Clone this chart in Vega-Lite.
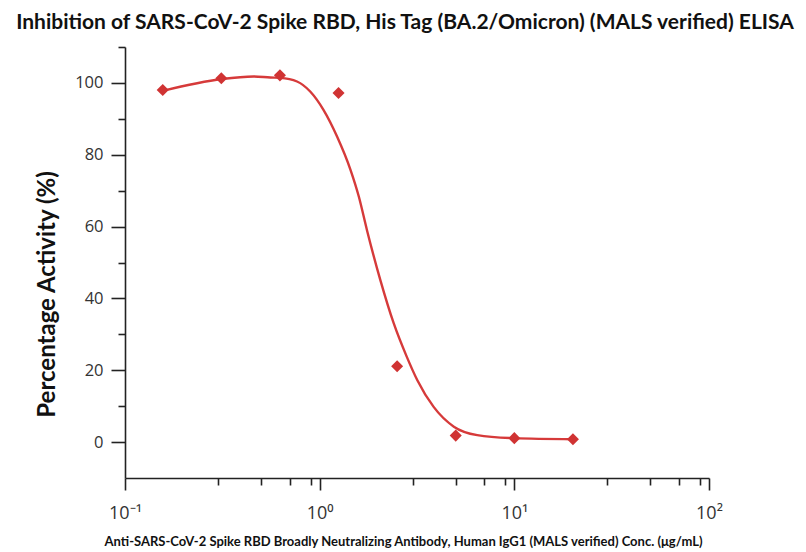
{
  "$schema": "https://vega.github.io/schema/vega-lite/v6.json",
  "width": 584,
  "height": 431,
  "autosize": "none",
  "padding": {"left": 125, "top": 47, "right": 97, "bottom": 74},
  "background": "white",
  "config": {"view": {"stroke": null}},
  "title": {
    "text": "Inhibition of SARS-CoV-2 Spike RBD, His Tag (BA.2/Omicron) (MALS verified) ELISA",
    "font": "Lato",
    "fontSize": 21,
    "fontWeight": "bold",
    "color": "#111111",
    "anchor": "middle",
    "dx": -12,
    "offset": 13
  },
  "datasets": {
    "curve": [
      {"conc": 0.156, "act": 97.8},
      {"conc": 0.3145, "act": 101.1},
      {"conc": 0.458, "act": 101.8},
      {"conc": 0.558, "act": 101.5},
      {"conc": 0.627, "act": 101.4},
      {"conc": 0.765, "act": 100.4},
      {"conc": 0.894, "act": 97.6},
      {"conc": 1.046, "act": 92.5},
      {"conc": 1.23, "act": 85.0},
      {"conc": 1.44, "act": 75.8},
      {"conc": 1.59, "act": 68.3},
      {"conc": 1.75, "act": 59.0},
      {"conc": 2.05, "act": 45.1},
      {"conc": 2.4, "act": 33.1},
      {"conc": 2.8, "act": 23.8},
      {"conc": 3.17, "act": 17.3},
      {"conc": 3.85, "act": 9.8},
      {"conc": 4.89, "act": 4.3},
      {"conc": 6.45, "act": 1.95},
      {"conc": 9.9, "act": 1.1},
      {"conc": 20.2, "act": 0.8}
    ],
    "points": [
      {"conc": 0.15625, "act": 98.0},
      {"conc": 0.3125, "act": 101.3},
      {"conc": 0.625, "act": 102.1},
      {"conc": 1.25, "act": 97.2},
      {"conc": 2.5, "act": 21.1},
      {"conc": 5, "act": 1.8},
      {"conc": 10, "act": 1.1},
      {"conc": 20, "act": 0.8}
    ]
  },
  "layer": [
    {
      "data": {"name": "curve"},
      "mark": {"type": "line", "interpolate": "monotone", "color": "#D63A3A", "strokeWidth": 2.4},
      "encoding": {
        "x": {
          "field": "conc",
          "type": "quantitative",
          "scale": {"type": "log", "domain": [0.1, 100], "nice": false},
          "axis": {
            "orient": "bottom",
            "values": [0.1, 1, 10, 100],
            "labelExpr": "datum.value < 0.5 ? '10⁻¹' : datum.value < 5 ? '10⁰' : datum.value < 50 ? '10¹' : '10²'",
            "labelFlush": false,
            "labelOverlap": false,
            "grid": false,
            "domainColor": "#222222",
            "domainWidth": 1.6,
            "tickColor": "#222222",
            "tickWidth": 1.6,
            "tickSize": 12,
            "labelFont": "Open Sans",
            "labelFontSize": 18,
            "labelColor": "#333333",
            "labelPadding": 14,
            "title": "Anti-SARS-CoV-2 Spike RBD Broadly Neutralizing Antibody, Human IgG1 (MALS verified) Conc. (μg/mL)",
            "titleFont": "Lato",
            "titleFontSize": 13,
            "titleFontWeight": "bold",
            "titleColor": "#111111",
            "titleX": 278,
            "titleY": 67,
            "titleBaseline": "alphabetic",
            "titleAnchor": "middle"
          }
        },
        "y": {
          "field": "act",
          "type": "quantitative",
          "scale": {"domain": [-10, 110], "nice": false, "zero": false},
          "axis": {
            "orient": "left",
            "values": [0, 20, 40, 60, 80, 100],
            "grid": false,
            "domainColor": "#222222",
            "domainWidth": 1.6,
            "tickColor": "#222222",
            "tickWidth": 1.6,
            "tickSize": 14,
            "labelFont": "Open Sans",
            "labelFontSize": 16.5,
            "labelColor": "#333333",
            "labelPadding": 8,
            "title": "Percentage Activity (%)",
            "titleFont": "Lato",
            "titleFontSize": 24,
            "titleFontWeight": "bold",
            "titleColor": "#111111",
            "titleX": -78,
            "titleY": 247,
            "titleBaseline": "middle",
            "titleAngle": -90,
            "titleAnchor": "middle"
          }
        }
      }
    },
    {
      "data": {"name": "points"},
      "mark": {"type": "point", "shape": "diamond", "filled": true, "color": "#D03333", "size": 145, "opacity": 1},
      "encoding": {
        "x": {
          "field": "conc",
          "type": "quantitative",
          "axis": {
            "orient": "bottom",
            "values": [0.3, 0.5, 0.7, 0.9, 3, 5, 7, 9, 30, 50, 70, 90],
            "labels": false,
            "domain": false,
            "grid": false,
            "tickColor": "#222222",
            "tickWidth": 1.6,
            "tickSize": 7,
            "title": null
          }
        },
        "y": {
          "field": "act",
          "type": "quantitative",
          "axis": {
            "orient": "left",
            "values": [10, 30, 50, 70, 90, 110],
            "labels": false,
            "domain": false,
            "grid": false,
            "tickColor": "#222222",
            "tickWidth": 1.6,
            "tickSize": 7,
            "title": null
          }
        }
      }
    }
  ],
  "resolve": {"axis": {"x": "independent", "y": "independent"}}
}
